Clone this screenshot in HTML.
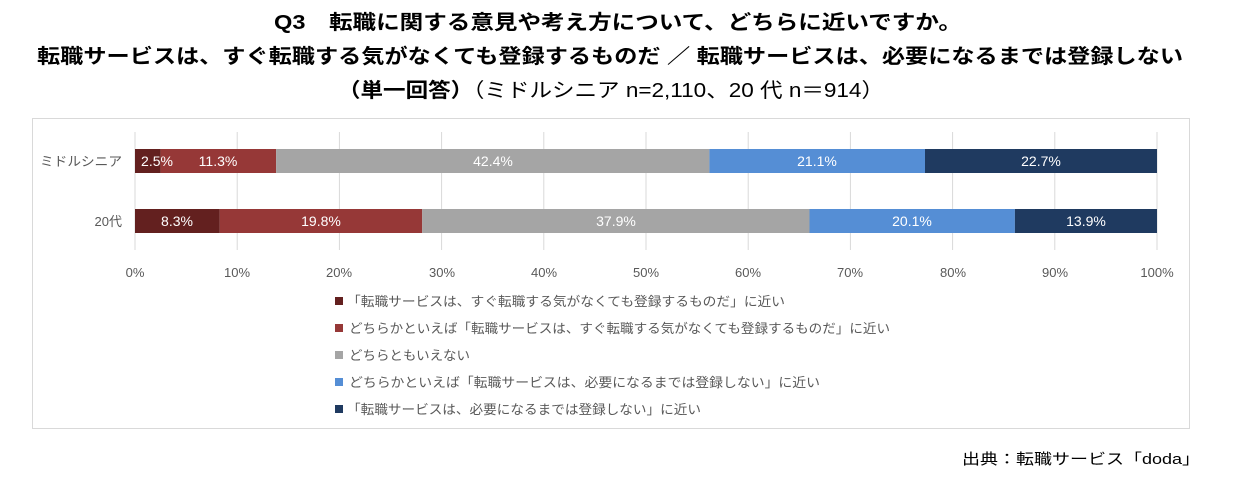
<!DOCTYPE html>
<html><head><meta charset="utf-8"><style>
body{margin:0;background:#fff;width:1234px;height:478px;overflow:hidden;font-family:"Liberation Sans","Noto Sans CJK JP",sans-serif;}
</style></head><body>
<svg width="1234" height="478" xmlns="http://www.w3.org/2000/svg" font-family="'Liberation Sans','Noto Sans CJK JP',sans-serif">
<text x="274" y="29" font-size="20" font-weight="bold" fill="#000" textLength="688" lengthAdjust="spacingAndGlyphs">Q3　転職に関する意見や考え方について、どちらに近いですか。</text>
<text x="37" y="63" font-size="20" font-weight="bold" fill="#000" textLength="1146" lengthAdjust="spacingAndGlyphs">転職サービスは、すぐ転職する気がなくても登録するものだ ／ 転職サービスは、必要になるまでは登録しない</text>
<text x="338" y="97" font-size="20" fill="#000" textLength="546" lengthAdjust="spacingAndGlyphs"><tspan font-weight="bold">（単一回答）</tspan>（ミドルシニア n=2,110、20 代 n＝914）</text>
<rect x="32.5" y="118.5" width="1157" height="310" fill="#fff" stroke="#d9d9d9"/>
<g stroke="#d9d9d9" stroke-width="1">
<line x1="135" y1="132" x2="135" y2="250"/><line x1="237.2" y1="132" x2="237.2" y2="250"/><line x1="339.4" y1="132" x2="339.4" y2="250"/><line x1="441.6" y1="132" x2="441.6" y2="250"/><line x1="543.8" y1="132" x2="543.8" y2="250"/><line x1="646" y1="132" x2="646" y2="250"/><line x1="748.2" y1="132" x2="748.2" y2="250"/><line x1="850.4" y1="132" x2="850.4" y2="250"/><line x1="952.6" y1="132" x2="952.6" y2="250"/><line x1="1054.8" y1="132" x2="1054.8" y2="250"/><line x1="1157" y1="132" x2="1157" y2="250"/>
</g>
<g>
<rect x="135" y="149" width="25.6" height="24" fill="#63201f"/>
<rect x="160.6" y="149" width="115.5" height="24" fill="#963837"/>
<rect x="276.1" y="149" width="433.3" height="24" fill="#a5a5a5"/>
<rect x="709.4" y="149" width="215.6" height="24" fill="#558ed5"/>
<rect x="925" y="149" width="232" height="24" fill="#1f3a60"/>
<rect x="135" y="209" width="84.8" height="24" fill="#63201f"/>
<rect x="219.8" y="209" width="202.4" height="24" fill="#963837"/>
<rect x="422.2" y="209" width="387.3" height="24" fill="#a5a5a5"/>
<rect x="809.5" y="209" width="205.4" height="24" fill="#558ed5"/>
<rect x="1014.9" y="209" width="142.1" height="24" fill="#1f3a60"/>
</g>
<g font-size="14" fill="#fff" text-anchor="middle">
<text x="157" y="166">2.5%</text><text x="218" y="166">11.3%</text><text x="493" y="166">42.4%</text><text x="817" y="166">21.1%</text><text x="1041" y="166">22.7%</text>
<text x="177" y="226">8.3%</text><text x="321" y="226">19.8%</text><text x="616" y="226">37.9%</text><text x="912" y="226">20.1%</text><text x="1086" y="226">13.9%</text>
</g>
<g font-size="13" fill="#595959">
<text x="40" y="166" textLength="82" lengthAdjust="spacingAndGlyphs">ミドルシニア</text>
<text x="122" y="226" text-anchor="end">20代</text>
</g>
<g font-size="13" fill="#595959" text-anchor="middle">
<text x="135" y="277">0%</text><text x="237" y="277">10%</text><text x="339" y="277">20%</text><text x="442" y="277">30%</text><text x="544" y="277">40%</text><text x="646" y="277">50%</text><text x="748" y="277">60%</text><text x="850" y="277">70%</text><text x="953" y="277">80%</text><text x="1055" y="277">90%</text><text x="1157" y="277">100%</text>
</g>
<g font-size="13" fill="#595959">
<rect x="335" y="297" width="8" height="8" fill="#63201f"/><text x="347" y="306" textLength="438" lengthAdjust="spacingAndGlyphs">「転職サービスは、すぐ転職する気がなくても登録するものだ」に近い</text>
<rect x="335" y="324" width="8" height="8" fill="#963837"/><text x="349" y="333" textLength="541" lengthAdjust="spacingAndGlyphs">どちらかといえば「転職サービスは、すぐ転職する気がなくても登録するものだ」に近い</text>
<rect x="335" y="351" width="8" height="8" fill="#a5a5a5"/><text x="349" y="360" textLength="121" lengthAdjust="spacingAndGlyphs">どちらともいえない</text>
<rect x="335" y="378" width="8" height="8" fill="#558ed5"/><text x="349" y="387" textLength="471" lengthAdjust="spacingAndGlyphs">どちらかといえば「転職サービスは、必要になるまでは登録しない」に近い</text>
<rect x="335" y="405" width="8" height="8" fill="#1f3a60"/><text x="347" y="414" textLength="354" lengthAdjust="spacingAndGlyphs">「転職サービスは、必要になるまでは登録しない」に近い</text>
</g>
<text x="962" y="464" font-size="15" fill="#000" textLength="238" lengthAdjust="spacingAndGlyphs">出典：転職サービス「doda」</text>
</svg>
</body></html>
